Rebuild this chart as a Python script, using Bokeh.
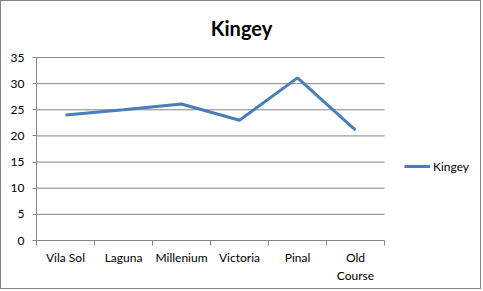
from bokeh.plotting import figure
from bokeh.models import FixedTicker, Range1d, Legend, LegendItem, Label
from bokeh.embed import file_html
from bokeh.resources import INLINE

categories = ["Vila Sol", "Laguna", "Millenium", "Victoria", "Pinal", "Old\nCourse"]
values = [24.0, 25.0, 26.1, 23.0, 31.1, 21.1]
y_ticks = [0, 5, 10, 15, 20, 25, 30, 35]
series_name = "Kingey"
title_text = "Kingey"

FONT = "Lato"
GRAY = "#868686"

n = len(categories)
y_max = 35
xs = [i + 0.5 for i in range(n)]

# layout in pixels
W, H = 481, 289
LEFT, TOP, BOTTOM = 35, 56, 50
PLOT_W = 348  # width of the category area
frame_w = W - LEFT
frame_h = H - BOTTOM
x_end = n * frame_w / PLOT_W
y_end = y_max * frame_h / (frame_h - TOP)

p = figure(width=W, height=H, output_backend="svg", toolbar_location=None,
           x_range=Range1d(0, x_end), y_range=Range1d(0, y_end),
           min_border_left=LEFT, min_border_right=0, min_border_top=0, min_border_bottom=BOTTOM)
p.styles = {"border": "1px solid " + GRAY}
p.outline_line_color = None
p.background_fill_color = "white"

title = Label(x=205, y=frame_h - 26, x_units="screen", y_units="screen", text=title_text,
              text_font=FONT, text_font_style="bold", text_font_size="20px",
              text_align="center", text_baseline="middle", text_color="black")
p.add_layout(title)

# horizontal gridlines limited to the category area
p.xgrid.grid_line_color = None
p.ygrid.grid_line_color = None
gy = [t for t in y_ticks if t > 0]
p.segment(x0=[0] * len(gy), x1=[n] * len(gy), y0=gy, y1=gy, line_color=GRAY, line_width=1)

r = p.line(xs, values, line_color="#4a7ebb", line_width=3)

# x axis
xa = p.xaxis[0]
xa.bounds = (0, n)
xa.ticker = FixedTicker(ticks=xs, minor_ticks=list(range(n + 1)))
xa.major_label_overrides = {x: c for x, c in zip(xs, categories)}
xa.major_tick_out = 0
xa.major_tick_in = 0
xa.minor_tick_out = 5
xa.minor_tick_in = 0
xa.minor_tick_line_color = GRAY
xa.axis_line_color = GRAY
xa.major_label_standoff = 4
xa.major_label_text_font = FONT
xa.major_label_text_font_size = "12px"
xa.major_label_text_color = "black"

# y axis
ya = p.yaxis[0]
ya.bounds = (0, y_max)
ya.ticker = FixedTicker(ticks=y_ticks)
ya.major_tick_out = 4
ya.major_tick_in = 0
ya.minor_tick_out = 0
ya.minor_tick_in = 0
ya.major_tick_line_color = GRAY
ya.axis_line_color = GRAY
ya.major_label_standoff = 8
ya.major_label_text_font = FONT
ya.major_label_text_font_size = "12px"
ya.major_label_text_color = "black"

legend = Legend(items=[LegendItem(label=series_name, renderers=[r])],
                location=(368, 64), padding=0, margin=0, glyph_width=26, glyph_height=20,
                label_standoff=3, border_line_color=None, background_fill_alpha=0,
                label_text_font=FONT, label_text_font_size="12px", label_text_color="black")
p.add_layout(legend, "center")

open("out.html", "w").write(file_html(p, INLINE))
